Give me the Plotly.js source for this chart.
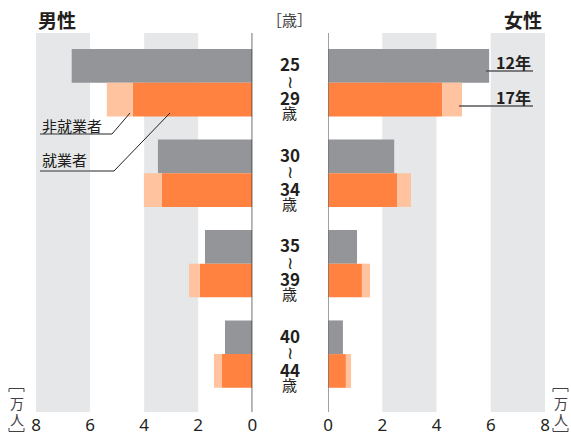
<!DOCTYPE html>
<html><head><meta charset="utf-8">
<script src="https://cdn.plot.ly/plotly-3.0.1.min.js"></script>
<style>html,body{margin:0;padding:0;background:#fff}#c{width:571px;height:436px}</style>
</head><body><div id="c"></div>
<script>
// categories
var ageFrom = ['25','30','35','40'];
var ageTo   = ['29','34','39','44'];
var ages = ['25～29歳','30～34歳','35～39歳','40～44歳'];
// 男性 (万人)
var men2012 = [6.68, 3.49, 1.75, 1.01];
var men2017Employed = [4.42, 3.34, 1.94, 1.12];
var men2017NonEmployed = [0.96, 0.67, 0.40, 0.30];
// 女性 (万人)
var women2012 = [5.94, 2.44, 1.07, 0.55];
var women2017Employed = [4.21, 2.55, 1.25, 0.66];
var women2017NonEmployed = [0.73, 0.51, 0.30, 0.19];
var tickVals = [0,2,4,6,8];
var tickText = ['0','2','4','6','8'];

var W = 571, H = 436;
function px(x){return x/W;}
function py(y){return 1-y/H;}

var GRAY = '#939598', ORANGE = '#ff8240', LIGHT = '#ffc39f', BAND = '#e6e7e8', INK = '#231f20';
var CJK = '"Noto Sans CJK JP", "Noto Sans", sans-serif';

function side(xa, v12, vEmp, vNon){
  return [
    {type:'bar', orientation:'h', y:ages, x:v12, xaxis:xa, yaxis:'y', offsetgroup:'a', marker:{color:GRAY, line:{width:0}}, hoverinfo:'skip'},
    {type:'bar', orientation:'h', y:ages, x:vEmp, xaxis:xa, yaxis:'y', offsetgroup:'b', marker:{color:ORANGE, line:{width:0}}, hoverinfo:'skip'},
    {type:'bar', orientation:'h', y:ages, x:vNon, base:vEmp, xaxis:xa, yaxis:'y', offsetgroup:'b', marker:{color:LIGHT, line:{width:0}}, hoverinfo:'skip'}
  ];
}
var data = side('x', men2012, men2017Employed, men2017NonEmployed)
  .concat(side('x2', women2012, women2017Employed, women2017NonEmployed));

var shapes = [];
// background bands
[['x',6,8],['x',2,4],['x2',2,4],['x2',6,8]].forEach(function(b){
  shapes.push({type:'rect', xref:b[0], yref:'paper', x0:b[1], x1:b[2], y0:py(412), y1:py(33), fillcolor:BAND, line:{width:0}, layer:'below'});
});
// zero lines
shapes.push({type:'line', xref:'x', yref:'paper', x0:0, x1:0, y0:py(412), y1:py(33), line:{color:INK, width:1.3}});
shapes.push({type:'line', xref:'x2', yref:'paper', x0:0, x1:0, y0:py(412), y1:py(33), line:{color:'#6d6e71', width:1.3}});
// leader lines
function seg(x0,y0,x1,y1,c,w){shapes.push({type:'line', xref:'paper', yref:'paper', x0:px(x0), y0:py(y0), x1:px(x1), y1:py(y1), line:{color:c, width:w}});}
seg(40,134,112,134,'#6d6e71',1.5); seg(112,134,130,113,INK,1);
seg(40,171,114,171,'#6d6e71',1.5); seg(114,171,170,113,INK,1);
seg(486,71,533,71,'#58595b',1.5);
seg(459,106,533,106,'#58595b',1.5);
// vertical brackets for unit label
function pth(pts){return 'M'+pts.map(function(p){return px(p[0])+','+py(p[1]);}).join(' L');}
[[9,24],[553,568]].forEach(function(r){
  shapes.push({type:'path', xref:'paper', yref:'paper', path:pth([[r[0],392],[r[0],388.5],[r[1],388.5],[r[1],392]]), line:{color:'#414042', width:1}});
  shapes.push({type:'path', xref:'paper', yref:'paper', path:pth([[r[0],428],[r[0],431.5],[r[1],431.5],[r[1],428]]), line:{color:'#414042', width:1}});
});

var ann = [];
function txt(x,y,t,size,bold,anchor,color){
  ann.push({xref:'paper', yref:'paper', x:px(x), y:py(y), text: bold?'<b>'+t+'</b>':t, showarrow:false,
    xanchor:anchor||'center', yanchor:'middle', font:{family:CJK, size:size, color:color||INK}});
}
txt(36,20,'男性',19,true,'left');
txt(544,20,'女性',19,true,'right');
txt(289,20,'［歳］',15,false,'center','#414042');
txt(40,125,'非就業者',15,false,'left');
txt(40,159,'就業者',15,false,'left');
txt(533,62,'12年',16,true,'right');
txt(533,97,'17年',16,true,'right');
// unit labels (vertical)
[16.5,560.5].forEach(function(cx){
  txt(cx,403,'万',14,false,'center','#414042');
  txt(cx,419,'人',14,false,'center','#414042');
});
// age labels
ages.forEach(function(a,i){
  var base = {xref:'paper', yref:'y', x:px(289.5), y:a, showarrow:false, xanchor:'center', yanchor:'middle'};
  ann.push(Object.assign({}, base, {text:'<b>'+ageFrom[i]+'</b>', yshift:19, font:{family:CJK,size:17,color:INK}}));
  ann.push(Object.assign({}, base, {text:'≀', yshift:1, font:{family:'"DejaVu Sans", sans-serif',size:17,color:INK}}));
  ann.push(Object.assign({}, base, {text:'<b>'+ageTo[i]+'</b>', yshift:-15, font:{family:CJK,size:17,color:INK}}));
  ann.push(Object.assign({}, base, {text:'歳', yshift:-30, font:{family:CJK,size:15,color:INK}}));
});

var axCommon = {showgrid:false, zeroline:false, showline:false, ticks:'', tickvals:tickVals, ticktext:tickText,
  ticklabelstandoff:1, tickfont:{family:'"Noto Sans", sans-serif', size:17, color:INK}, anchor:'y', fixedrange:true};
var layout = {
  width:W, height:H, margin:{l:0,r:0,t:0,b:0}, paper_bgcolor:'#fff', plot_bgcolor:'rgba(0,0,0,0)',
  showlegend:false, barmode:'group', bargap:0.255, bargroupgap:0,
  xaxis:Object.assign({}, axCommon, {domain:[px(36), px(252.3)], range:[8,0]}),
  xaxis2:Object.assign({}, axCommon, {domain:[px(328), px(545)], range:[0,8]}),
  yaxis:{type:'category', categoryorder:'array', categoryarray:ages, range:[3.64,-0.55], domain:[py(412), py(33)],
    showticklabels:false, showgrid:false, zeroline:false, showline:false, ticks:'', fixedrange:true},
  shapes:shapes, annotations:ann
};
Plotly.newPlot('c', data, layout, {displayModeBar:false, staticPlot:true});
</script></body></html>
